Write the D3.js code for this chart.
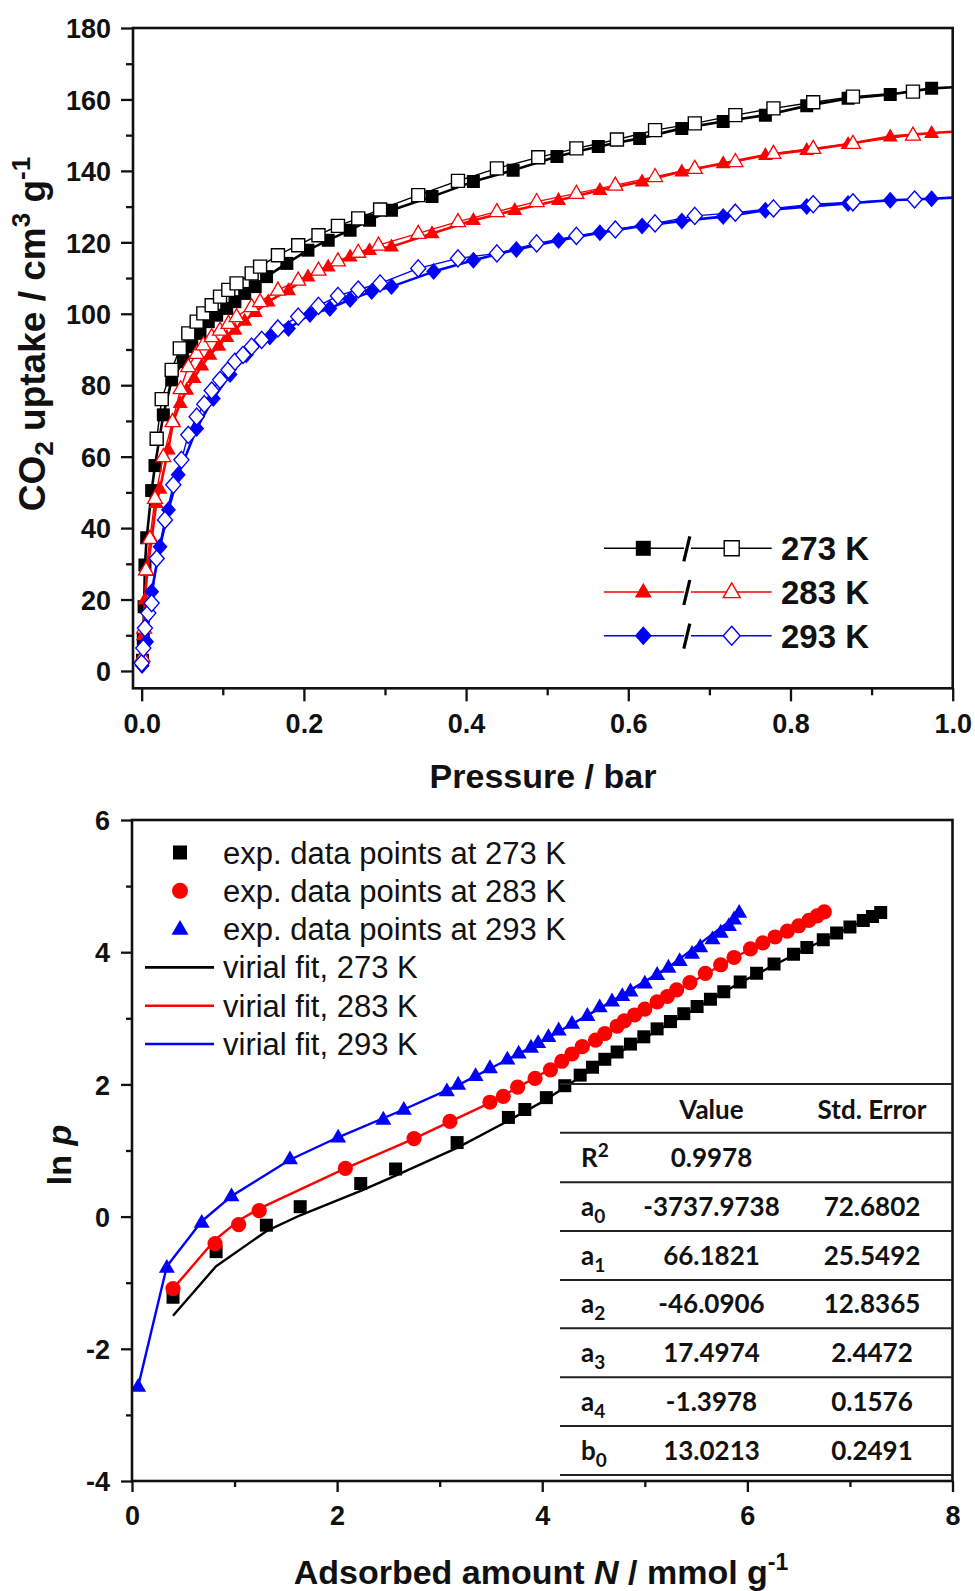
<!DOCTYPE html>
<html><head><meta charset="utf-8">
<script src="https://cdn.jsdelivr.net/npm/d3@7"></script>
<style>body{margin:0;background:#fff}</style>
</head><body><svg id="c" width="975" height="1591"></svg>
<script>
// ---------- DATA (top: CO2 isotherms, pressure [bar], uptake [cm3/g]) ----------
const ads273 = [[0.001,3],[0.002,9],[0.003,18],[0.004,29.7],[0.0062,37.3],[0.0123,50.5],[0.0164,57.5],[0.0267,71.7],[0.037,81.5],[0.0513,86.6],[0.0617,90.8],[0.0719,94.5],[0.0821,97.8],[0.0925,99.6],[0.1048,101.5],[0.115,103.4],[0.127,105.7],[0.140,107.6],[0.154,110.4],[0.179,114.1],[0.205,117.8],[0.230,120.6],[0.257,123.4],[0.281,126.2],[0.308,129],[0.358,132.8],[0.409,137],[0.458,140.2],[0.512,144],[0.563,146.8],[0.614,149.1],[0.666,151.9],[0.717,153.8],[0.769,155.6],[0.820,158.2],[0.871,160.3],[0.923,161.4],[0.974,163.1],[1.025,163.7]];
const des273 = [[0.0185,65],[0.0247,76.1],[0.037,84.3],[0.047,90.3],[0.0575,94.5],[0.0678,97.8],[0.076,100.1],[0.0863,102.4],[0.0966,104.8],[0.1068,106.7],[0.117,108.5],[0.1356,111.3],[0.146,113.2],[0.168,116.4],[0.193,119.2],[0.218,122],[0.242,124.6],[0.267,126.7],[0.294,129.2],[0.341,133.2],[0.390,137.2],[0.438,140.7],[0.489,143.8],[0.536,146.3],[0.586,148.8],[0.633,151.4],[0.682,153.3],[0.732,155.6],[0.779,157.5],[0.828,159.2],[0.877,160.8],[0.951,162.2]];
const ads283 = [[0.001,4],[0.002,10],[0.004,20],[0.007,28],[0.0123,37],[0.018,47],[0.0225,51],[0.0328,62],[0.039,70],[0.0475,75],[0.0555,78.7],[0.0645,82],[0.074,85.5],[0.084,88.5],[0.095,91],[0.105,93.5],[0.115,95.5],[0.127,98],[0.140,100.5],[0.156,103.4],[0.181,106.6],[0.205,110.4],[0.230,113.2],[0.257,116],[0.281,117.8],[0.308,118.8],[0.358,122.5],[0.409,126.2],[0.460,129],[0.514,131.8],[0.565,134.6],[0.617,137],[0.666,139.8],[0.717,142.1],[0.769,144.4],[0.820,145.8],[0.871,147.5],[0.923,149.6],[0.974,150.6],[1.025,151.3]];
const des283 = [[0.001,4],[0.003,12],[0.0053,28.3],[0.0102,37.1],[0.0164,48.3],[0.0267,60],[0.038,69.8],[0.048,79],[0.0575,85.2],[0.0678,88.9],[0.076,91.3],[0.0863,93.6],[0.0966,95.4],[0.107,97.3],[0.117,99.2],[0.1356,102],[0.146,103.4],[0.168,106.6],[0.193,109.4],[0.218,112.2],[0.242,114.8],[0.267,117.2],[0.292,119.2],[0.341,122.5],[0.390,125.8],[0.438,128.6],[0.487,131.4],[0.536,133.7],[0.584,136],[0.633,138.4],[0.682,140.7],[0.732,142.6],[0.779,144.9],[0.828,146.3],[0.877,147.7],[0.951,150]];
const ads293 = [[0.0005,1.5],[0.006,8.2],[0.0123,22.2],[0.0226,34.8],[0.033,45.1],[0.045,54.9],[0.0678,67.9],[0.0883,76.3],[0.109,83],[0.129,88.5],[0.158,93.5],[0.181,95.9],[0.2075,99.8],[0.232,101.5],[0.257,104],[0.2836,106.2],[0.308,107.6],[0.360,111.8],[0.409,115],[0.462,118],[0.514,120.5],[0.565,122.7],[0.617,124.6],[0.666,126],[0.717,127.2],[0.769,129],[0.820,130],[0.871,130.9],[0.923,131.8],[0.974,132.2],[1.025,132.8]];
const des293 = [[0,2.2],[0.002,6.4],[0.004,12],[0.0082,16.2],[0.0123,19],[0.0185,31.5],[0.0287,42.3],[0.039,52.1],[0.049,59.1],[0.0575,66.1],[0.0678,71.2],[0.0772,74.7],[0.0863,78.5],[0.0966,81.5],[0.107,84.3],[0.115,86.6],[0.125,88.5],[0.1356,90.8],[0.148,92.7],[0.168,95.9],[0.193,99.2],[0.218,102.2],[0.242,105],[0.267,106.8],[0.294,108.5],[0.341,112.7],[0.390,115.5],[0.438,116.9],[0.487,119.7],[0.536,121.8],[0.584,123.6],[0.633,125.3],[0.682,127.4],[0.732,128.3],[0.779,129.5],[0.828,130.7],[0.877,131.2],[0.953,132]];
const topLegend = ["273 K","283 K","293 K"];
const topXTicks = [0,0.2,0.4,0.6,0.8,1.0];
const topYTicks = [0,20,40,60,80,100,120,140,160,180];

// ---------- DATA (bottom: virial, N [mmol/g], ln p) ----------
const exp273 = [[0.40,-1.22],[0.82,-0.53],[1.31,-0.13],[1.64,0.15],[2.23,0.50],[2.57,0.72],[3.17,1.12],[3.67,1.50],[3.83,1.62],[4.04,1.80],[4.22,1.98],[4.37,2.14],[4.49,2.26],[4.61,2.38],[4.73,2.49],[4.86,2.61],[4.99,2.72],[5.12,2.84],[5.25,2.95],[5.38,3.07],[5.51,3.18],[5.64,3.29],[5.77,3.40],[5.93,3.55],[6.09,3.68],[6.26,3.82],[6.45,3.97],[6.58,4.07],[6.74,4.19],[6.87,4.29],[7.00,4.38],[7.13,4.48],[7.22,4.54],[7.30,4.60]];
const exp283 = [[0.40,-1.09],[0.81,-0.41],[1.04,-0.12],[1.24,0.09],[2.08,0.73],[2.75,1.18],[3.10,1.44],[3.49,1.73],[3.62,1.82],[3.76,1.96],[3.93,2.09],[4.08,2.22],[4.19,2.35],[4.29,2.46],[4.39,2.57],[4.52,2.67],[4.61,2.77],[4.73,2.88],[4.80,2.96],[4.90,3.05],[5.00,3.14],[5.12,3.25],[5.22,3.33],[5.31,3.43],[5.44,3.54],[5.59,3.68],[5.74,3.81],[5.87,3.92],[6.03,4.05],[6.15,4.14],[6.27,4.23],[6.39,4.32],[6.50,4.40],[6.60,4.48],[6.68,4.55],[6.75,4.61]];
const exp293 = [[0.06,-2.57],[0.34,-0.77],[0.68,-0.09],[0.97,0.31],[1.54,0.87],[2.01,1.20],[2.45,1.47],[2.65,1.62],[3.07,1.90],[3.18,2.00],[3.35,2.13],[3.49,2.25],[3.66,2.38],[3.77,2.47],[3.89,2.56],[3.96,2.63],[4.06,2.72],[4.16,2.82],[4.29,2.92],[4.44,3.04],[4.56,3.17],[4.68,3.26],[4.78,3.34],[4.86,3.41],[5.00,3.53],[5.12,3.66],[5.23,3.77],[5.34,3.87],[5.46,3.98],[5.54,4.08],[5.66,4.20],[5.74,4.30],[5.82,4.40],[5.87,4.50],[5.92,4.60]];
const fit273 = [[0.40,-1.50],[0.82,-0.75],[1.31,-0.22],[1.64,0.02],[2.23,0.39],[2.57,0.62],[3.17,1.04],[3.67,1.45],[4.04,1.77],[4.61,2.36],[5.25,2.93],[5.93,3.54],[6.58,4.06],[7.30,4.60]];
const fit283 = [[0.40,-1.09],[0.81,-0.35],[1.04,-0.06],[1.24,0.12],[2.08,0.73],[2.75,1.18],[3.49,1.72],[4.19,2.33],[5.00,3.13],[5.87,3.92],[6.75,4.60]];
const fit293 = [[0.06,-2.57],[0.34,-0.75],[0.68,-0.07],[0.97,0.31],[1.54,0.86],[2.01,1.20],[2.65,1.62],[3.18,1.99],[3.89,2.56],[4.56,3.15],[5.23,3.77],[5.92,4.58]];
const botLegend = ["exp. data points at 273 K","exp. data points at 283 K","exp. data points at 293 K","virial fit, 273 K","virial fit, 283 K","virial fit, 293 K"];
const botXTicks = [0,2,4,6,8];
const botYTicks = [-4,-2,0,2,4,6];
const tableParams = ["R","a","a","a","a","a","b"];
const tableSubs = ["2","0","1","2","3","4","0"];
const tableValues = ["0.9978","-3737.9738","66.1821","-46.0906","17.4974","-1.3978","13.0213"];
const tableErrors = ["","72.6802","25.5492","12.8365","2.4472","0.1576","0.2491"];

// ---------- helpers ----------
const F = '"Liberation Sans", Arial, sans-serif';
const FT = 'Lato, "Open Sans", sans-serif';
const svg = d3.select('#c');
svg.append('rect').attr('width',975).attr('height',1591).attr('fill','#fff');
const sq = s => `M${-s/2},${-s/2}h${s}v${s}h${-s}Z`;
const tri = a => { const h=a*0.866; return `M0,${-h*0.62}L${a/2},${h*0.38}L${-a/2},${h*0.38}Z`; };
const dia = (w,h) => `M0,${-h/2}L${w/2},0L0,${h/2}L${-w/2},0Z`;
const circ = r => `M${-r},0a${r},${r} 0 1,0 ${2*r},0a${r},${r} 0 1,0 ${-2*r},0Z`;
const hy = f => (d => f(d).replace('\u2212','-'));

function styleAxis(g, fs){
  g.select('.domain').remove();
  g.selectAll('line').attr('stroke','#111').attr('stroke-width',2.3);
  g.selectAll('text').attr('font-family',F).attr('font-weight','bold').attr('font-size',fs).attr('fill','#111');
}

// ================= TOP CHART =================
const xT = d3.scaleLinear().domain([-0.0107,1.0]).range([133,952.7]);
const yT = d3.scaleLinear().domain([-4.85,180]).range([688.3,28]);
const gTop = svg.append('g');
gTop.append('clipPath').attr('id','clipT').append('rect')
  .attr('x',xT.range()[0]).attr('y',yT.range()[1])
  .attr('width',xT.range()[1]-xT.range()[0]).attr('height',yT.range()[0]-yT.range()[1]);

const gxT = gTop.append('g').attr('transform',`translate(0,${yT.range()[0]})`)
  .call(d3.axisBottom(xT).tickValues(topXTicks).tickSize(13).tickFormat(d3.format('.1f')));
styleAxis(gxT,27); gxT.selectAll('text').attr('y',45).attr('dy',0);
const gxTm = gTop.append('g').attr('transform',`translate(0,${yT.range()[0]})`)
  .call(d3.axisBottom(xT).tickValues([0.1,0.3,0.5,0.7,0.9]).tickSize(7).tickFormat(''));
styleAxis(gxTm,27);
const gyT = gTop.append('g').attr('transform',`translate(${xT.range()[0]},0)`)
  .call(d3.axisLeft(yT).tickValues(topYTicks).tickSize(12));
styleAxis(gyT,27); gyT.selectAll('text').attr('x',-22).attr('dy','0.36em');
const gyTm = gTop.append('g').attr('transform',`translate(${xT.range()[0]},0)`)
  .call(d3.axisLeft(yT).tickValues([10,30,50,70,90,110,130,150,170]).tickSize(7).tickFormat(''));
styleAxis(gyTm,27);

const topSeries = [
  {d:ads273,c:'#000',path:sq(13),fill:'#000',lw:2.6,sw:0},
  {d:des273,c:'#000',path:sq(13),fill:'#fff',lw:1.4,sw:1.4},
  {d:ads283,c:'#ff0000',path:tri(15),fill:'#ff0000',lw:2.6,sw:0},
  {d:des283,c:'#ff0000',path:tri(15),fill:'#fff',lw:1.4,sw:1.3},
  {d:ads293,c:'#0000ff',path:dia(15,17),fill:'#0000ff',lw:2.6,sw:0},
  {d:des293,c:'#0000ff',path:dia(15,17),fill:'#fff',lw:1.4,sw:1.4}
];
const plotT = gTop.append('g').attr('clip-path','url(#clipT)');
const lineT = d3.line().x(d=>xT(d[0])).y(d=>yT(d[1]));
topSeries.forEach(s=>{
  plotT.append('path').datum(s.d).attr('d',lineT).attr('fill','none').attr('stroke',s.c).attr('stroke-width',s.lw).attr('stroke-linejoin','round');
  plotT.selectAll(null).data(s.d).enter().append('path')
    .attr('transform',d=>`translate(${xT(d[0])},${yT(d[1])})`).attr('d',s.path)
    .attr('fill',s.fill).attr('stroke',s.sw?s.c:'none').attr('stroke-width',s.sw);
});
gTop.append('rect').attr('x',xT.range()[0]).attr('y',yT.range()[1])
  .attr('width',xT.range()[1]-xT.range()[0]).attr('height',yT.range()[0]-yT.range()[1])
  .attr('fill','none').attr('stroke','#111').attr('stroke-width',2.6);

const legCols = ['#000','#ff0000','#0000ff'];
const legShapes = [sq(15),tri(17),dia(17,19)];
topLegend.forEach((t,i)=>{
  const cy = 548.3 + i*43.7;
  const g = gTop.append('g');
  g.append('line').attr('x1',604).attr('x2',684).attr('y1',cy).attr('y2',cy).attr('stroke',legCols[i]).attr('stroke-width',1.6);
  g.append('line').attr('x1',691).attr('x2',771.7).attr('y1',cy).attr('y2',cy).attr('stroke',legCols[i]).attr('stroke-width',1.6);
  g.append('path').attr('transform',`translate(643.3,${cy})`).attr('d',legShapes[i]).attr('fill',legCols[i]);
  g.append('path').attr('transform',`translate(731.7,${cy})`).attr('d',legShapes[i]).attr('fill','#fff').attr('stroke',legCols[i]).attr('stroke-width',1.4);
  g.append('line').attr('x1',683.8).attr('y1',cy+13).attr('x2',689.8).attr('y2',cy-12).attr('stroke','#000').attr('stroke-width',3.2);
  g.append('text').attr('x',781).attr('y',cy+12).attr('font-family',F).attr('font-weight','bold').attr('font-size',33).attr('fill','#111').text(t);
});

const tY = gTop.append('text').attr('transform','translate(45,334) rotate(-90)').attr('text-anchor','middle')
  .attr('font-family',F).attr('font-weight','bold').attr('font-size',37).attr('fill','#111');
tY.append('tspan').text('CO');
tY.append('tspan').attr('font-size',26).attr('dy',8).text('2');
tY.append('tspan').attr('dy',-8).text(' uptake / cm');
tY.append('tspan').attr('font-size',26).attr('dy',-15).text('3');
tY.append('tspan').attr('dy',15).text(' g');
tY.append('tspan').attr('font-size',26).attr('dy',-15).text('-1');
gTop.append('text').attr('x',543).attr('y',788).attr('text-anchor','middle')
  .attr('font-family',F).attr('font-weight','bold').attr('font-size',34).attr('fill','#111').text('Pressure / bar');

// ================= BOTTOM CHART =================
const xB = d3.scaleLinear().domain([0,8]).range([132,952.5]);
const yB = d3.scaleLinear().domain([-4,6]).range([1481,820]);
const gBot = svg.append('g');
gBot.append('clipPath').attr('id','clipB').append('rect')
  .attr('x',xB.range()[0]).attr('y',yB.range()[1])
  .attr('width',xB.range()[1]-xB.range()[0]).attr('height',yB.range()[0]-yB.range()[1]);
const gxB = gBot.append('g').attr('transform',`translate(0,${yB.range()[0]})`)
  .call(d3.axisBottom(xB).tickValues(botXTicks).tickSize(11).tickFormat(hy(d3.format('d'))));
styleAxis(gxB,27); gxB.selectAll('text').attr('y',44).attr('dy',0);
const gxBm = gBot.append('g').attr('transform',`translate(0,${yB.range()[0]})`)
  .call(d3.axisBottom(xB).tickValues([1,3,5,7]).tickSize(6).tickFormat(''));
styleAxis(gxBm,27);
const gyB = gBot.append('g').attr('transform',`translate(${xB.range()[0]},0)`)
  .call(d3.axisLeft(yB).tickValues(botYTicks).tickSize(11).tickFormat(hy(d3.format('d'))));
styleAxis(gyB,27); gyB.selectAll('text').attr('x',-22).attr('dy','0.36em');
const gyBm = gBot.append('g').attr('transform',`translate(${xB.range()[0]},0)`)
  .call(d3.axisLeft(yB).tickValues([-3,-1,1,3,5]).tickSize(6).tickFormat(''));
styleAxis(gyBm,27);

const plotB = gBot.append('g').attr('clip-path','url(#clipB)');
const lineB = d3.line().x(d=>xB(d[0])).y(d=>yB(d[1]));
const botSeries = [
  {e:exp273,f:fit273,c:'#000',path:sq(13)},
  {e:exp283,f:fit283,c:'#ff0000',path:circ(7.6)},
  {e:exp293,f:fit293,c:'#0000ff',path:tri(16)}
];
botSeries.forEach(s=>{
  plotB.append('path').datum(s.f).attr('d',lineB).attr('fill','none').attr('stroke',s.c).attr('stroke-width',2.4).attr('stroke-linejoin','round');
});
botSeries.forEach(s=>{
  plotB.selectAll(null).data(s.e).enter().append('path')
    .attr('transform',d=>`translate(${xB(d[0])},${yB(d[1])})`).attr('d',s.path).attr('fill',s.c);
});
gBot.append('rect').attr('x',xB.range()[0]).attr('y',yB.range()[1])
  .attr('width',xB.range()[1]-xB.range()[0]).attr('height',yB.range()[0]-yB.range()[1])
  .attr('fill','none').attr('stroke','#111').attr('stroke-width',2.6);

const legB = [
  {t:'pt',path:sq(14),c:'#000'},{t:'pt',path:circ(8),c:'#ff0000'},{t:'pt',path:tri(17),c:'#0000ff'},
  {t:'ln',c:'#000'},{t:'ln',c:'#ff0000'},{t:'ln',c:'#0000ff'}
];
botLegend.forEach((txt,i)=>{
  const cy = 852.5 + i*38.3;
  if(legB[i].t==='pt') gBot.append('path').attr('transform',`translate(180,${cy})`).attr('d',legB[i].path).attr('fill',legB[i].c);
  else gBot.append('line').attr('x1',145).attr('x2',214).attr('y1',cy).attr('y2',cy).attr('stroke',legB[i].c).attr('stroke-width',2.6);
  gBot.append('text').attr('x',223).attr('y',cy+11).attr('font-family',F).attr('font-size',31).attr('fill','#111').text(txt);
});

const tbl = gBot.append('g');
const rowLines = [1084,1132.7,1182.3,1231,1280,1328.3,1377.3,1426,1475];
rowLines.forEach(y=>tbl.append('line').attr('x1',560).attr('x2',952).attr('y1',y).attr('y2',y).attr('stroke','#222').attr('stroke-width',2));
const tfont = (s)=>s.attr('font-family',FT).attr('font-weight','bold').attr('font-size',26).attr('fill','#111');
tfont(tbl.append('text').attr('x',711.5).attr('y',1119).attr('text-anchor','middle').text('Value'));
tfont(tbl.append('text').attr('x',872).attr('y',1119).attr('text-anchor','middle').text('Std. Error'));
tableParams.forEach((p,i)=>{
  const cy = (rowLines[i+1]+rowLines[i+2])/2;
  const t = tfont(tbl.append('text').attr('x',581).attr('y',cy+9.3));
  t.append('tspan').text(p);
  if(i===0) t.append('tspan').attr('font-size',19).attr('dy',-10).text(tableSubs[i]);
  else t.append('tspan').attr('font-size',19).attr('dy',7).text(tableSubs[i]);
  tfont(tbl.append('text').attr('x',711.5).attr('y',cy+9.3).attr('text-anchor','middle').text(tableValues[i]));
  if(tableErrors[i]) tfont(tbl.append('text').attr('x',872).attr('y',cy+9.3).attr('text-anchor','middle').text(tableErrors[i]));
});

const tYB = gBot.append('text').attr('transform','translate(71,1155) rotate(-90)').attr('text-anchor','middle')
  .attr('font-family',F).attr('font-weight','bold').attr('font-size',34).attr('fill','#111');
tYB.append('tspan').text('ln ');
tYB.append('tspan').attr('font-style','italic').text('p');
const tXB = gBot.append('text').attr('x',541).attr('y',1584).attr('text-anchor','middle')
  .attr('font-family',F).attr('font-weight','bold').attr('font-size',34).attr('fill','#111');
tXB.append('tspan').text('Adsorbed amount ');
tXB.append('tspan').attr('font-style','italic').text('N');
tXB.append('tspan').text(' / mmol g');
tXB.append('tspan').attr('font-size',23).attr('dy',-14).text('-1');
</script>
</body></html>
